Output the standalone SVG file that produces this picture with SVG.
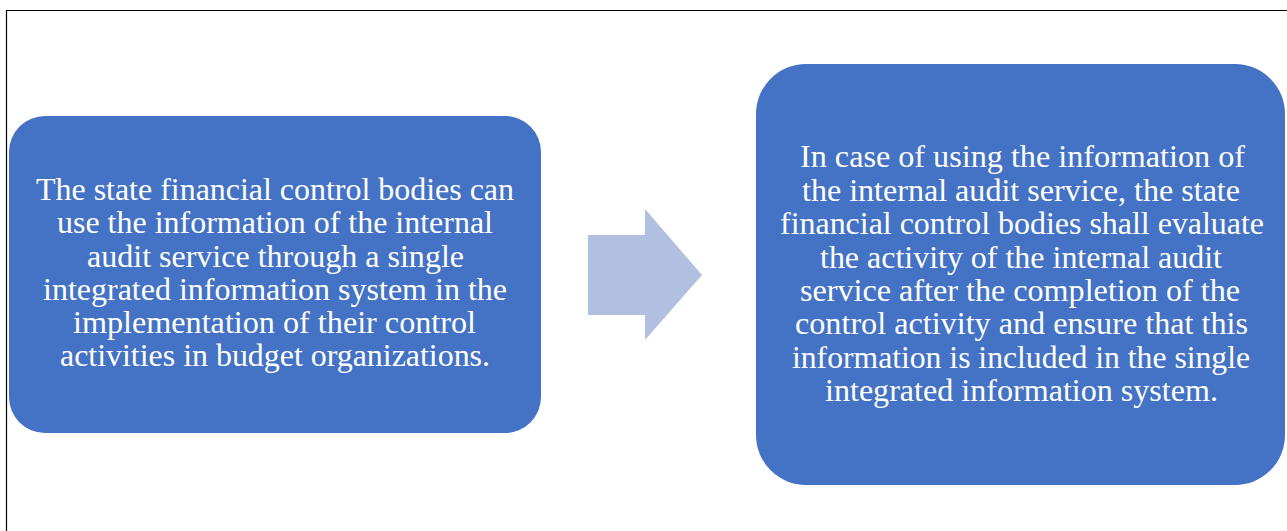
<svg xmlns="http://www.w3.org/2000/svg" width="1287" height="531" viewBox="0 0 1287 531">
<style>
.box{fill:#4472C4;}
.arrow{fill:#B1BFE1;}
.t{font-family:"Liberation Serif","Times New Roman",serif;font-size:32px;fill:#FFFFFF;}
</style>
<rect x="0" y="0" width="1287" height="531" fill="#FFFFFF"/>
<path d="M6.5,531 V10.5 H1287" fill="none" stroke="#000000" stroke-width="1.2"/>
<g id="node-left">
<rect class="box" x="9" y="116" width="532" height="317" rx="36" ry="36"/>
<text class="t">
<tspan x="36" y="200" textLength="478" lengthAdjust="spacingAndGlyphs">The state financial control bodies can</tspan>
<tspan x="57" y="233" textLength="436" lengthAdjust="spacingAndGlyphs">use the information of the internal</tspan>
<tspan x="87" y="267" textLength="377" lengthAdjust="spacingAndGlyphs">audit service through a single</tspan>
<tspan x="43" y="300" textLength="464" lengthAdjust="spacingAndGlyphs">integrated information system in the</tspan>
<tspan x="73" y="333" textLength="403" lengthAdjust="spacingAndGlyphs">implementation of their control</tspan>
<tspan x="60" y="366" textLength="430" lengthAdjust="spacingAndGlyphs">activities in budget organizations.</tspan>
</text>
</g>
<g id="connectors">
<polygon class="arrow" points="588,235 645,235 645,209 702,275 645,340 645,315 588,315"/>
</g>
<g id="node-right">
<rect class="box" x="756" y="64" width="529" height="421" rx="50" ry="50"/>
<text class="t">
<tspan x="800" y="167" textLength="445" lengthAdjust="spacingAndGlyphs">In case of using the information of</tspan>
<tspan x="802" y="201" textLength="438" lengthAdjust="spacingAndGlyphs">the internal audit service, the state</tspan>
<tspan x="780" y="234" textLength="484" lengthAdjust="spacingAndGlyphs">financial control bodies shall evaluate</tspan>
<tspan x="820" y="268" textLength="402" lengthAdjust="spacingAndGlyphs">the activity of the internal audit</tspan>
<tspan x="800" y="301" textLength="440" lengthAdjust="spacingAndGlyphs">service after the completion of the</tspan>
<tspan x="795" y="334" textLength="453" lengthAdjust="spacingAndGlyphs">control activity and ensure that this</tspan>
<tspan x="792" y="368" textLength="458" lengthAdjust="spacingAndGlyphs">information is included in the single</tspan>
<tspan x="825" y="401" textLength="393" lengthAdjust="spacingAndGlyphs">integrated information system.</tspan>
</text>
</g>
</svg>
